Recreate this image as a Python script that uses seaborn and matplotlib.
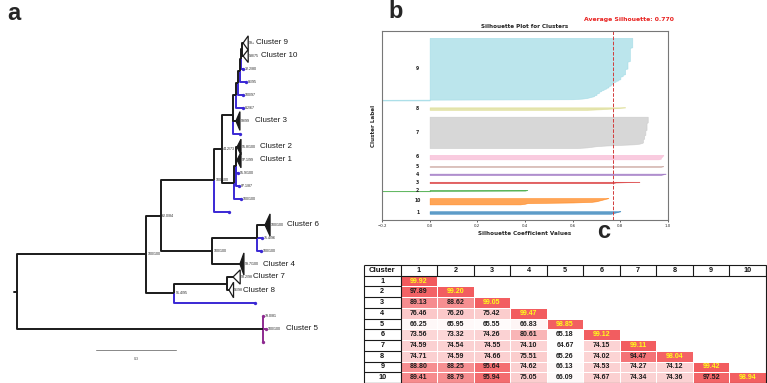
import numpy as np
import pandas as pd
import seaborn as sns
import matplotlib
import matplotlib.pyplot as plt
from matplotlib.patches import Polygon
from matplotlib.colors import LinearSegmentedColormap

sns.set_theme(style='white')
plt.rcParams['font.family'] = ['Liberation Sans', 'DejaVu Sans']

# ---------------- a: tree (depth in subst./site, leaves top to bottom) ----------------
node_id = ['R', 'A', 'B', 'C', 'H', 'I', 'L1', 'L2', 'L3', 'L4', 'L5',
           'K', 'K1', 'D', 'G', 'E', 'F', 'N5']
node_parent = [None, 'R', 'A', 'B', 'C', 'H', 'I', 'L1', 'L2', 'L3', 'L4',
               'H', 'K', 'B', 'D', 'A', 'E', 'R']
node_depth = [0.0, 0.484, 0.540, 0.739, 0.769, 0.810, 0.821, 0.829, 0.836, 0.840, 0.844,
              0.814, 0.821, 0.731, 0.900, 0.589, 0.788, 0.922]
node_support = ['', '100/100', '62.0/84', '100/100', '44.2/73', '', '', '', '', '', '',
                '', '', '100/100', '', '91.4/95', '', '']

leaf_parent = ['L5', 'L5', 'L4', 'L3', 'L2', 'L1', 'I', 'I', 'K1', 'K1', 'K1', 'K1',
               'K', 'C', 'G', 'G', 'G', 'D', 'F', 'F', 'E', 'N5', 'N5', 'N5']
leaf_depth = [0.848, 0.848, 0.848, 0.859, 0.848, 0.848, 0.821, 0.836, 0.825, 0.825, 0.829, 0.833,
              0.840, 0.795, 0.930, 0.919, 0.915, 0.836, 0.810, 0.795, 0.893, 0.923, 0.934, 0.923]
leaf_group = ['clade', 'clade', 'blue', 'blue', 'blue', 'blue', 'clade', 'blue', 'clade', 'clade', 'blue', 'blue',
              'blue', 'blue', 'clade', 'blue', 'blue', 'clade', 'clade', 'clade', 'blue', 'purple', 'purple', 'purple']
leaf_support = ['99+', '9.8/75', '32.2/80', '86/95', '100/97', '8.2/67', '99/99', '', '95.8/100', '97.1/99',
                '95.9/100', '87.1/87', '100/100', '', '100/100', '75.4/96', '100/100', '99.7/100',
                '98.2/98', '96/98', '', '79.0/81', '100/100', '']
leaf_name = ['Cluster 9', 'Cluster 10', '', '', '', '', 'Cluster 3', '', 'Cluster 2', 'Cluster 1', '', '',
             '', '', 'Cluster 6', '', '', 'Cluster 4', 'Cluster 7', 'Cluster 8', '', '', 'Cluster 5', '']
leaf_name_x = [0.896, 0.915, 0, 0, 0, 0, 0.893, 0, 0.911, 0.911, 0, 0,
               0, 0, 1.0125, 0, 0, 0.9225, 0.885, 0.8475, 0, 0, 1.009, 0]
# collapsed clusters: triangle depth, half height (rows), outline only
tri_w = [0.019, 0.019, 0, 0, 0, 0, 0.015, 0, 0.015, 0.015, 0, 0,
         0, 0, 0.019, 0, 0, 0.015, 0.027, 0.017, 0, 0, 0, 0]
tri_h = [0.55, 0.5, 0, 0, 0, 0, 0.72, 0, 0.6, 0.6, 0, 0,
         0, 0, 0.85, 0, 0, 0.85, 0.55, 0.6, 0, 0, 0, 0]
tri_open = [True, True] + [False] * 16 + [True, True] + [False] * 4

BLUE = '#3a28d4'
PURPLE = '#8e2a90'

# ---------------- b: silhouette values, (value, count) runs, sorted ----------------
sil_labels = ['1', '10', '2', '3', '4', '5', '6', '7', '8', '9']
sil_c1 = [(0.76, 1), (0.77, 1), (0.78, 1), (0.79, 1), (0.80, 1)]
sil_c10 = [(0.38, 1), (0.40, 1), (0.41, 1), (0.60, 1), (0.68, 1), (0.70, 1), (0.71, 1),
           (0.72, 1), (0.73, 1), (0.74, 1), (0.75, 1)]
sil_c2 = [(-0.30, 1), (0.40, 1), (0.41, 1)]
sil_c3 = [(0.77, 1), (0.78, 1), (0.88, 1)]
sil_c4 = [(0.97, 1), (0.98, 1), (0.99, 1)]
sil_c5 = [(0.97, 1), (0.98, 1)]
sil_c6 = [(0.96, 1), (0.97, 3), (0.975, 2), (0.98, 2)]
sil_c7 = [(0.62, 1), (0.66, 1), (0.68, 1), (0.70, 1), (0.74, 1), (0.80, 1), (0.86, 1), (0.88, 1),
          (0.89, 1), (0.895, 6), (0.90, 6), (0.905, 8), (0.91, 12), (0.915, 10)]
sil_c8 = [(0.66, 1), (0.72, 1), (0.76, 1), (0.79, 1), (0.82, 1)]
sil_c9 = [(-0.30, 1), (-0.25, 1), (0.60, 1), (0.64, 1), (0.66, 1), (0.67, 1), (0.68, 1), (0.69, 2),
          (0.70, 3), (0.71, 3), (0.72, 2), (0.73, 2), (0.74, 2), (0.75, 3), (0.76, 3), (0.77, 3),
          (0.78, 2), (0.79, 2), (0.80, 5), (0.81, 3), (0.82, 9), (0.83, 12), (0.84, 22), (0.85, 16)]
sil_runs = [sil_c1, sil_c10, sil_c2, sil_c3, sil_c4, sil_c5, sil_c6, sil_c7, sil_c8, sil_c9]
sil_avg = 0.770

# ---------------- c: pairwise identity (lower triangle) ----------------
clusters = [str(i) for i in range(1, 11)]
identity = [
    [99.92],
    [97.89, 99.20],
    [89.13, 88.62, 99.05],
    [76.46, 76.20, 75.42, 99.47],
    [66.25, 65.95, 65.55, 66.83, 98.85],
    [73.56, 73.32, 74.26, 80.61, 65.18, 99.12],
    [74.59, 74.54, 74.55, 74.10, 64.67, 74.15, 99.11],
    [74.71, 74.59, 74.66, 75.51, 65.26, 74.02, 94.47, 98.04],
    [88.80, 88.25, 95.64, 74.62, 66.13, 74.53, 74.27, 74.12, 99.42],
    [89.41, 88.79, 95.94, 75.05, 66.09, 74.67, 74.34, 74.36, 97.52, 98.94],
]

W, H = 767, 383
fig = plt.figure(figsize=(W / 100, H / 100), dpi=100)

# ======================= a =======================
ax = fig.add_axes([0, 0, 360 / W, 1])
ax.set_xlim(-17 * 0.00375, 343 * 0.00375)
ax.set_ylim((H - 43) / 13, -43 / 13)
ax.axis('off')

depth = dict(zip(node_id, node_depth))
children = {n: [] for n in node_id}
for i, p in enumerate(leaf_parent):
    children[p].append(('leaf', i))
for n, p in zip(node_id, node_parent):
    if p is not None:
        children[p].append(('node', n))

ypos = {}


def get_y(kind, key):
    if kind == 'leaf':
        return float(key)
    if key not in ypos:
        ys = [get_y(*c) for c in children[key]]
        ypos[key] = (min(ys) + max(ys)) / 2
    return ypos[key]


group_col = {'blue': BLUE, 'purple': PURPLE, 'clade': 'k'}
for n in node_id:
    px, py = depth[n], get_y('node', n)
    for kind, key in children[n]:
        cy = get_y(kind, key)
        if kind == 'leaf':
            cx, col = leaf_depth[key], group_col[leaf_group[key]]
        else:
            cx, col = depth[key], 'k'
        ax.plot([px, px, cx], [py, cy, cy], color=col, lw=1.4,
                solid_capstyle='butt', zorder=3 if col == 'k' else 2)

# root stub
ax.plot([-0.012, 0], [get_y('node', 'R')] * 2, color='k', lw=1.4)

for n, sup in zip(node_id, node_support):
    if sup:
        ax.text(depth[n] + 0.005, get_y('node', n), sup, fontsize=2.6, va='center', color='#222')

for i in range(len(leaf_parent)):
    x, y = leaf_depth[i], float(i)
    if leaf_group[i] == 'clade':
        w, h = tri_w[i], tri_h[i]
        ax.add_patch(Polygon([(x, y), (x + w, y - h), (x + w, y + h)], closed=True,
                             facecolor='white' if tri_open[i] else 'k', edgecolor='k', lw=0.9, zorder=4))
        sx = x + w + 0.003
    else:
        ax.plot(x, y, 'o', ms=2.4, color=group_col[leaf_group[i]], mec='none', zorder=4)
        sx = x + 0.006
    if leaf_support[i]:
        ax.text(sx, y, leaf_support[i], fontsize=2.6, va='center', color='#222')
    if leaf_name[i]:
        ax.text(leaf_name_x[i], y, leaf_name[i], fontsize=5.8, va='center', color='#1a1a1a')

# scale bar
ax.plot([0.296, 0.596], [23.6, 23.6], color='#888', lw=0.7)
ax.text(0.446, 24.3, '0.3', fontsize=2.6, ha='center', va='center', color='#444')

# ======================= b =======================
axb = fig.add_axes([382 / W, 1 - 220 / H, 286 / W, 189 / H])
cmap20 = matplotlib.colormaps['tab20']
y_lower = 10
for i, (lab, runs) in enumerate(zip(sil_labels, sil_runs)):
    vals = np.sort(np.repeat([r[0] for r in runs], [r[1] for r in runs]))
    ys = np.arange(y_lower, y_lower + len(vals))
    col = cmap20(i / 9)
    axb.fill_betweenx(ys, 0, vals, facecolor=col, edgecolor=col, alpha=0.7, lw=0.5)
    axb.text(-0.05, y_lower + 0.5 * len(vals), lab, fontsize=3.3, fontweight='bold',
             family='DejaVu Sans', ha='center', va='center', color='#222')
    y_lower += len(vals) + 10

axb.axvline(sil_avg, color='#d23b3b', ls='--', lw=0.7)
axb.set_xlim(-0.2, 1.0)
axb.set_ylim(0, y_lower)
axb.set_yticks([])
axb.set_xticks([-0.2, 0.0, 0.2, 0.4, 0.6, 0.8, 1.0])
axb.tick_params(axis='x', labelsize=2.8, length=1.5, width=0.5, pad=1.5, bottom=True)
for t in axb.get_xticklabels():
    t.set_family('DejaVu Sans')
for s in axb.spines.values():
    s.set_color('#777')
    s.set_linewidth(0.8)
axb.set_xlabel('Silhouette Coefficient Values', fontsize=4.1, fontweight='bold',
               family='DejaVu Sans', labelpad=2)
axb.set_ylabel('Cluster Label', fontsize=4.1, fontweight='bold', family='DejaVu Sans', labelpad=4)
axb.text(0.5, 1.012, 'Silhouette Plot for Clusters', transform=axb.transAxes, ha='center', va='bottom',
         fontsize=4.1, fontweight='bold', family='DejaVu Sans', color='#222')
axb.text(0.836, 1.05, f'Average Silhouette: {sil_avg:.3f}', transform=axb.get_xaxis_transform(),
         ha='center', va='bottom', fontsize=4.4, fontweight='bold', family='DejaVu Sans', color='#e8201e')

# ======================= c =======================
axc = fig.add_axes([364 / W, 0, 402 / W, 118 / H])
mat = np.full((10, 10), np.nan)
for r, row in enumerate(identity):
    mat[r, :len(row)] = row
df = pd.DataFrame(mat, index=clusters, columns=clusters)
cmap = LinearSegmentedColormap.from_list('idn', ['#ffffff', '#f25a5d'])
sns.heatmap(df, mask=df.isna(), cmap=cmap, vmin=64.67, vmax=99.92, cbar=False,
            linewidths=0.6, linecolor='white', annot=True, fmt='.2f',
            annot_kws={'fontsize': 5.0, 'fontweight': 'bold'}, ax=axc)
for t in axc.texts:
    x, y = t.get_position()
    t.set_color('#ffff1a' if int(x) == int(y) else '#1c1c1c')
axc.set_xlim(-1, 10)
axc.set_ylim(10, -1)
axc.set_xticks([])
axc.set_yticks([])
axc.set_xlabel('')
axc.set_ylabel('')
for s in axc.spines.values():
    s.set_visible(False)

lk = dict(color='k', lw=0.8, clip_on=False)
axc.hlines([-1, 0], -1, 10, **lk)
axc.hlines(range(1, 11), -1, 0, **lk)
axc.vlines([-1, 0], -1, 10, **lk)
axc.vlines(range(1, 11), -1, 0, **lk)
axc.vlines(10, -1, 10, **lk)
axc.hlines(10, -1, 10, **lk)
axc.text(-0.5, -0.5, 'Cluster', ha='center', va='center', fontsize=5.6, fontweight='bold', color='#111')
for k, c in enumerate(clusters):
    axc.text(k + 0.5, -0.5, c, ha='center', va='center', fontsize=5.2, fontweight='bold', color='#111')
    axc.text(-0.5, k + 0.5, c, ha='center', va='center', fontsize=5.2, fontweight='bold', color='#111')

# panel letters
fig.text(14 / W, 1 - 13 / H, 'a', fontsize=17, fontweight='bold', ha='center', va='center')
fig.text(396 / W, 1 - 12 / H, 'b', fontsize=17, fontweight='bold', ha='center', va='center')
fig.text(604 / W, 1 - 232 / H, 'c', fontsize=17, fontweight='bold', ha='center', va='center')

fig.savefig('out.png', dpi=100)
